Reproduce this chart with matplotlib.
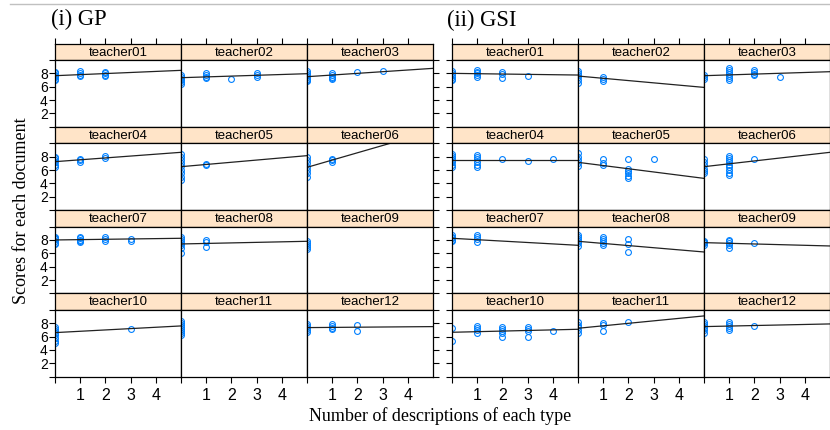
import numpy as np
import pandas as pd
import matplotlib
matplotlib.use('Agg')
import matplotlib.pyplot as plt
from matplotlib.lines import Line2D

teachers = ['teacher%02d' % i for i in range(1, 13)]

# scores per teacher, indexed by number of descriptions (0..4)
gp_scores = [
    [[8.2, 8.0, 7.8, 7.6, 7.4, 7.2, 7.0], [8.3, 8.0, 7.8, 7.6], [8.2, 8.0, 7.8, 7.6], [], []],
    [[7.7, 7.4, 7.2, 7.0, 6.7, 6.4], [8.0, 7.7, 7.4, 7.3], [7.2], [8.0, 7.7, 7.5], []],
    [[8.3, 8.0, 7.7, 7.5, 7.2, 7.0, 6.8], [8.0, 7.8, 7.5, 7.3, 7.1], [8.2], [8.4], []],
    [[8.0, 7.8, 7.5, 7.2, 6.8, 6.4], [7.7, 7.5, 7.2], [8.1, 7.8], [], []],
    [[8.4, 8.0, 7.5, 7.0, 6.6, 6.0, 5.5, 5.0, 4.5], [6.9, 6.7], [], [], []],
    [[7.9, 7.5, 7.0, 6.5, 6.0, 5.5, 5.0], [7.7, 7.5, 7.2], [], [], []],
    [[8.5, 8.3, 8.1, 7.9, 7.6, 7.4], [8.5, 8.3, 8.0, 7.8, 7.7], [8.4, 8.2, 7.8], [8.2, 7.8], []],
    [[8.4, 8.1, 7.8, 7.5, 7.2, 6.8, 6.1], [8.0, 7.7, 6.9], [], [], []],
    [[7.9, 7.6, 7.3, 7.0, 6.7], [], [], [], []],
    [[7.4, 7.1, 6.8, 6.5, 6.2, 5.8, 5.4, 5.1], [], [], [7.1], []],
    [[8.3, 8.0, 7.7, 7.4, 7.1, 6.8, 6.5, 6.2], [], [], [], []],
    [[7.9, 7.6, 7.3, 7.0, 6.7], [7.9, 7.6, 7.3, 7.1], [7.7, 6.9], [], []],
]
gp_intercept = [7.65, 7.35, 7.5, 7.25, 6.5, 6.4, 8.0, 7.4, np.nan, 6.6, np.nan, 7.35]
gp_slope = [0.16, 0.12, 0.25, 0.28, 0.33, 1.09, 0.05, 0.08, np.nan, 0.2, np.nan, 0.03]

gsi_scores = [
    [[8.4, 8.1, 7.8, 7.5, 7.2, 7.0], [8.5, 8.2, 8.0, 7.8, 7.5], [8.2, 7.9, 7.3], [7.6], []],
    [[8.3, 8.0, 7.7, 7.4, 7.0, 6.6], [7.5, 7.2, 6.9], [], [], []],
    [[7.8, 7.4, 7.1], [8.8, 8.5, 8.2, 7.9, 7.6, 7.3, 7.0], [8.5, 8.2, 7.9, 7.7], [7.5], []],
    [[8.4, 8.1, 7.8, 7.5, 7.2, 6.8, 6.5], [8.2, 7.9, 7.6, 7.2, 6.8, 6.5], [7.6], [7.3], [7.7]],
    [[8.5, 8.0, 7.5, 7.0, 6.6], [7.7, 7.0, 6.7], [7.6, 6.2, 5.9, 5.5, 5.1, 4.8], [7.7], []],
    [[7.7, 7.2, 6.7, 6.2, 5.8, 5.5], [8.1, 7.8, 7.5, 7.2, 6.8, 6.4, 6.0, 5.6, 5.3], [7.7], [], []],
    [[8.7, 8.5, 8.3, 8.0, 7.8], [8.7, 8.4, 8.1, 7.7], [], [], []],
    [[8.7, 8.4, 8.1, 7.8, 7.5, 7.1], [8.5, 8.2, 7.9, 7.6, 7.2], [8.2, 7.4, 6.2], [], []],
    [[7.9, 7.7, 7.5, 7.3], [8.0, 7.8, 7.5, 7.2, 6.8], [7.6], [], []],
    [[7.3, 5.4], [7.6, 7.3, 7.0, 6.5], [7.5, 7.2, 6.9, 6.6, 5.9], [7.4, 7.1, 6.8, 6.0], [6.9]],
    [[8.2, 7.8, 7.4, 7.0, 6.6], [8.0, 7.7, 6.9], [8.2], [], []],
    [[8.2, 7.9, 7.6, 7.3, 7.0, 6.6], [8.2, 7.9, 7.6, 7.3, 7.0], [7.6], [], []],
]
gsi_intercept = [8.0, 7.6, 7.65, 7.55, 7.15, 6.5, 8.25, 7.8, 7.6, 6.65, 7.25, 7.5]
gsi_slope = [-0.05, -0.34, 0.12, 0.0, -0.48, 0.43, -0.21, -0.32, -0.1, 0.09, 0.37, 0.08]


def to_long(scores):
    rows = []
    for t, per_n in zip(teachers, scores):
        for n, vals in enumerate(per_n):
            for v in vals:
                rows.append((t, n, v))
    return pd.DataFrame(rows, columns=['teacher', 'n', 'score'])


W, H = 830, 430
fig = plt.figure(figsize=(W / 100, H / 100), dpi=100)


def box(x0, y0, w, h):
    return [x0 / W, 1 - (y0 + h) / H, w / W, h / H]


SANS = 'Liberation Sans'
SERIF = 'Liberation Serif'
STRIP = '#ffe4c8'
PT = '#0080ff'

top0, strip_h, panel_h, pitch = 43.5, 16.5, 66.8, 83.3
panel_w = 126


def draw_group(x_left, df, intercept, slope, ylabels):
    for i, t in enumerate(teachers):
        r, c = divmod(i, 3)
        x0 = x_left + c * panel_w
        ys = top0 + r * pitch

        # strip
        sax = fig.add_axes(box(x0, ys, panel_w, strip_h))
        sax.set_facecolor(STRIP)
        sax.set_xlim(0, 5)
        sax.set_yticks([])
        sax.text(0.5, 0.45, t, transform=sax.transAxes, ha='center', va='center',
                 fontsize=9.5, family=SANS)
        if r == 0:
            sax.xaxis.tick_top()
            sax.set_xticks([0, 1, 2, 3, 4])
            sax.set_xticklabels([])
            sax.tick_params(axis='x', direction='out', length=4.3, width=0.8)
        else:
            sax.set_xticks([])
        for s in sax.spines.values():
            s.set_linewidth(0.9)

        # panel
        ax = fig.add_axes(box(x0, ys + strip_h, panel_w, panel_h))
        ax.set_xlim(0, 5)
        ax.set_ylim(0, 10)
        d = df[df['teacher'] == t]
        ax.plot(d['n'], d['score'], ls='none', marker='o', ms=4.2, mfc='none',
                mec=PT, mew=0.8)
        if not np.isnan(slope[i]):
            xx = np.array([0, 5])
            ax.plot(xx, intercept[i] + slope[i] * xx, color='#222222', lw=0.9)

        ax.tick_params(direction='out', length=4.3, width=0.8)
        ax.tick_params(axis='x', labelsize=11.5, pad=4)
        ax.tick_params(axis='y', labelsize=10, pad=1)
        if r == 3:
            ax.set_xticks([0, 1, 2, 3, 4])
            ax.set_xticklabels(['', '1', '2', '3', '4'], family=SANS)
        else:
            ax.set_xticks([])
        if c == 0:
            ax.set_yticks([0, 2, 4, 6, 8, 10])
            if ylabels:
                ax.set_yticklabels(['', '2', '4', '6', '8', ''], family=SANS)
            else:
                ax.set_yticklabels([])
        elif c == 2:
            ax.yaxis.tick_right()
            ax.set_yticks([0, 2, 4, 6, 8, 10])
            ax.set_yticklabels([])
        else:
            ax.set_yticks([])
        for s in ax.spines.values():
            s.set_linewidth(0.9)


draw_group(55, to_long(gp_scores), gp_intercept, gp_slope, True)
draw_group(452, to_long(gsi_scores), gsi_intercept, gsi_slope, False)

# titles and shared labels
fig.text(51 / W, 1 - 19 / H, '(i) GP', family=SERIF, fontsize=16.3, ha='left', va='center')
fig.text(447 / W, 1 - 20 / H, '(ii) GSI', family=SERIF, fontsize=16.3, ha='left', va='center')
fig.text(22 / W, 1 - 211 / H, 'Scores for each document', family=SERIF, fontsize=13,
         rotation=90, ha='center', va='center')
fig.text(440 / W, 1 - 416 / H, 'Number of descriptions of each type', family=SERIF,
         fontsize=13, ha='center', va='center')

fig.add_artist(Line2D([10 / W, 1], [1 - 4.3 / H, 1 - 4.3 / H], color='#c0c0c0', lw=1))

fig.savefig('out.png', dpi=100)
